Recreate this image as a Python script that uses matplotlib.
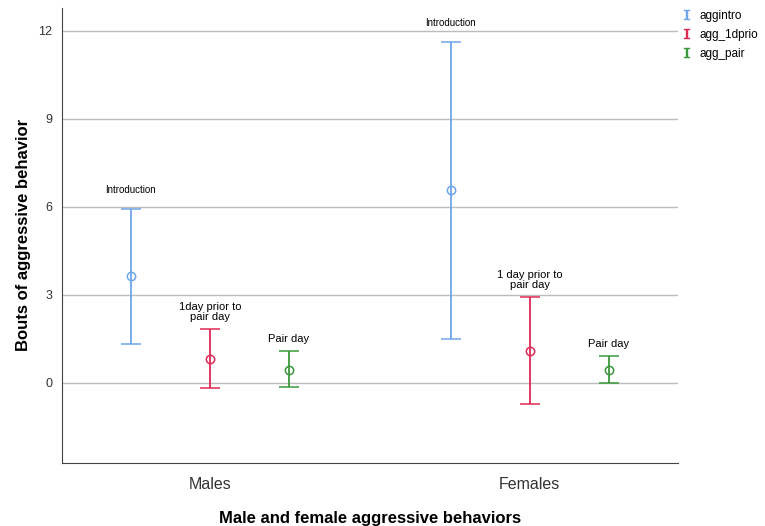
import numpy as np
import matplotlib
matplotlib.use("Agg")
from matplotlib import pyplot as plt
from matplotlib.lines import Line2D

plt.rcParams['font.family'] = ['Liberation Sans', 'DejaVu Sans']

# donnees
groupes = ["Males", "Females"]
series = ["aggintro", "agg_1dprio", "agg_pair"]
couleurs = ["#6fa6ea", "#de2a55", "#3c983c"]
moyennes = {
    "aggintro": [3.65, 6.56],
    "agg_1dprio": [0.82, 1.09],
    "agg_pair": [0.45, 0.45],
}
hauts = {
    "aggintro": [5.93, 11.63],
    "agg_1dprio": [1.84, 2.91],
    "agg_pair": [1.09, 0.93],
}
bas = {
    "aggintro": [1.33, 1.50],
    "agg_1dprio": [-0.19, -0.73],
    "agg_pair": [-0.16, 0.0],
}
etiquettes = {
    "aggintro": ["Introduction", "Introduction"],
    "agg_1dprio": ["1day prior to\npair day", "1 day prior to\npair day"],
    "agg_pair": ["Pair day", "Pair day"],
}
yticks = [0, 3, 6, 9, 12]

fig = plt.figure(figsize=(7.65, 5.26), dpi=100)
ax = fig.add_axes([0.081, 0.12, 0.805, 0.865])

x = np.arange(len(groupes))
decalages = [-0.247, 0, 0.247]
# ecart texte / moustache (points)
ecarts = {"aggintro": 10, "agg_1dprio": 5, "agg_pair": 5}
for k, s in enumerate(series):
    xs = x + decalages[k]
    m = np.array(moyennes[s])
    h = np.array(hauts[s])
    b = np.array(bas[s])
    ax.errorbar(xs, m, yerr=[m - b, h - m], fmt='o', color=couleurs[k],
                mfc='none', ms=6, mew=1.1, elinewidth=1.3, capsize=7,
                capthick=1.3, zorder=3)
    for i in range(len(groupes)):
        taille = 7 if s == "aggintro" else 8
        ax.annotate(etiquettes[s][i], (xs[i], h[i]), xytext=(0, ecarts[s]),
                    textcoords='offset points', ha='center', va='bottom',
                    fontsize=taille, linespacing=1.0)

ax.set_xlim(-0.4625, 1.4625)
ax.set_ylim(-2.73, 12.78)
ax.set_yticks(yticks)
ax.set_xticks(x)
ax.set_xticklabels(groupes, fontsize=11.5, color='#333333')
ax.tick_params(axis='y', length=0, labelsize=9, pad=7, colors='#333333')
ax.tick_params(axis='x', length=0, pad=10)
ax.grid(axis='y', color='#bcbcbc', linewidth=1)
ax.set_axisbelow(True)
for c in ['top', 'right']:
    ax.spines[c].set_visible(False)
for c in ['left', 'bottom']:
    ax.spines[c].set_color('#444444')
ax.set_ylabel("Bouts of aggressive behavior", fontsize=12, fontweight='bold', labelpad=5)
ax.set_xlabel("Male and female aggressive behaviors", fontsize=12, fontweight='bold', labelpad=14)

poignees = [Line2D([], [], marker=r'$\mathtt{I}$', color=c, linestyle='none',
                   markersize=7, markeredgewidth=0.3)
            for c in couleurs]
fig.legend(poignees, series, loc='upper left', bbox_to_anchor=(0.886, 0.99),
           frameon=False, fontsize=8.5, handlelength=0.8, handletextpad=0.6,
           labelspacing=0.6, borderaxespad=0, borderpad=0.4)

fig.savefig("out.png", dpi=100)
